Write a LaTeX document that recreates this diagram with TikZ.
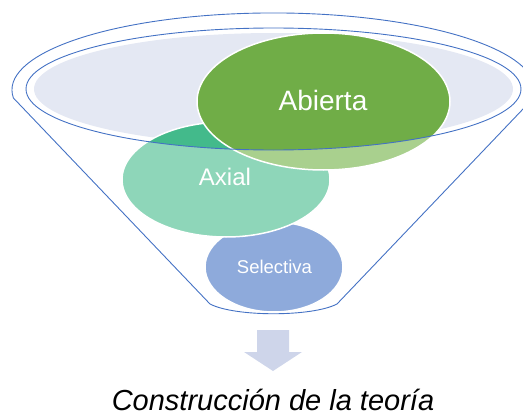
\documentclass[tikz,border=0pt]{standalone}
\usepackage{fontspec}
\setmainfont{Liberation Sans}
\definecolor{funnelblue}{HTML}{4472C4}
\definecolor{topfill}{HTML}{E4E8F3}
\definecolor{abiertadark}{HTML}{70AD47}
\definecolor{abiertalight}{HTML}{A9D08E}
\definecolor{axialdark}{HTML}{43BA8B}
\definecolor{axiallight}{HTML}{8ED6B9}
\definecolor{selectivafill}{HTML}{8EAADB}
\definecolor{arrowfill}{HTML}{CED5EA}
\begin{document}
\begin{tikzpicture}[x=1pt,y=-1pt,line join=round,line cap=round,
  rim/.style={draw=white,line width=1.5pt},
  txt/.style={white,anchor=base,inner sep=0pt},
  declare function={cx=273.5;cy=89;rx=247.5;ry=61;}]
\useasboundingbox (0,0) rectangle (523,415);
% funnel
\draw[funnelblue,line width=.9pt] (13.4,98) arc[start angle=174,end angle=366,x radius=261.5,y radius=77] -- (337,304) .. controls (312,317) and (235,317) .. (210,304) -- cycle;
\fill[topfill] (cx,cy) ellipse[x radius=239.5,y radius=56];
% stages
\fill[selectivafill] (274,267) ellipse[x radius=69,y radius=45];
\draw[rim] (274,267) ellipse[x radius=69,y radius=45];
\fill[axiallight] (226,179.5) ellipse[x radius=104,y radius=57.5];
\begin{scope}
\clip (cx,cy) ellipse[x radius=rx,y radius=ry];
\fill[axialdark] (226,179.5) ellipse[x radius=104,y radius=57.5];
\end{scope}
\draw[rim] (226,179.5) ellipse[x radius=104,y radius=57.5];
\fill[abiertalight] (323.5,101.5) ellipse[x radius=126.5,y radius=68.5];
\begin{scope}
\clip (cx,cy) ellipse[x radius=rx,y radius=ry];
\fill[abiertadark] (323.5,101.5) ellipse[x radius=126.5,y radius=68.5];
\end{scope}
\draw[rim] (323.5,101.5) ellipse[x radius=126.5,y radius=68.5];
\draw[funnelblue,line width=.9pt] (cx,cy) ellipse[x radius=rx,y radius=ry];
\node[txt,font=\fontsize{28}{30}\selectfont] (abierta) at (323,110) {Abierta};
\node[txt,font=\fontsize{24}{26}\selectfont] (axial) at (225,185) {Axial};
\node[txt,font=\fontsize{18.5}{20}\selectfont] (selectiva) at (274.5,273) {Selectiva};
% result
\fill[arrowfill] (257,330) -- (289,330) -- (289,352) -- (302,352) -- (273,371) -- (244,352) -- (257,352) -- cycle;
\node[txt,black,font=\fontsize{29}{30}\selectfont\itshape] (teoria) at (273,410) {Construcción de la teoría};
\end{tikzpicture}
\end{document}
